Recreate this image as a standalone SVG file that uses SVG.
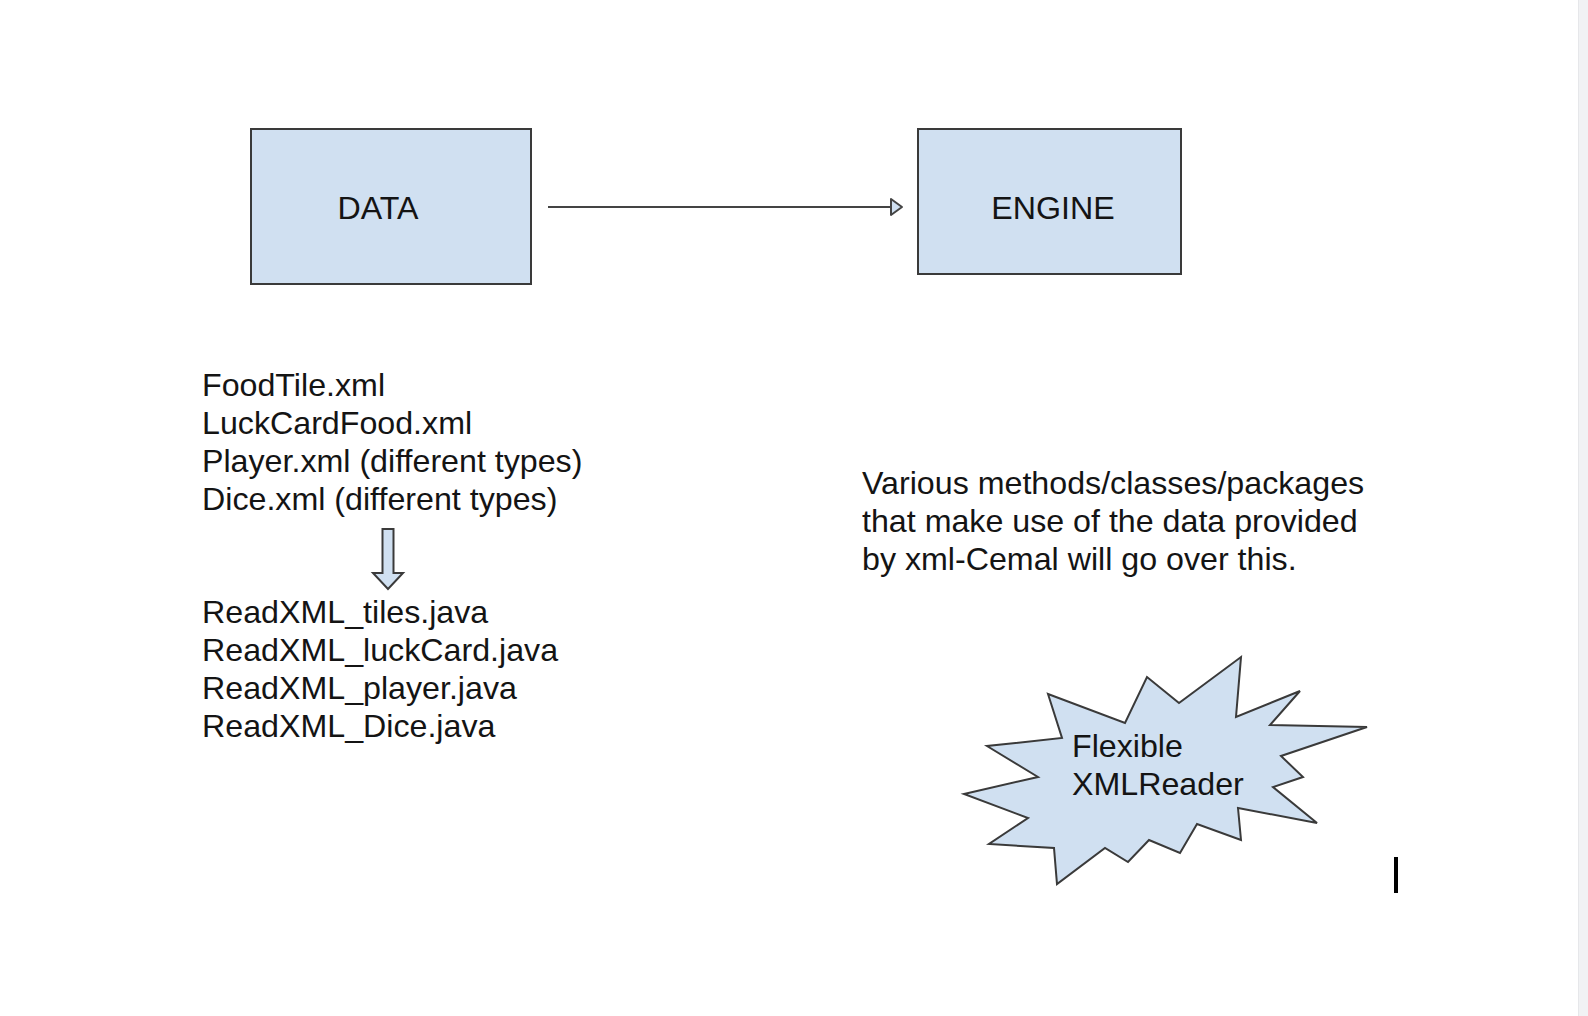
<svg xmlns="http://www.w3.org/2000/svg" width="1588" height="1016" viewBox="0 0 1588 1016">
<defs>
<style>
.box{fill:#d0e0f1;stroke:#3a3a3a;stroke-width:2}
.t{font-family:"Liberation Sans",Arial,Helvetica,sans-serif;font-size:32.2px;fill:#141414}
.conn{fill:none;stroke:#444;stroke-width:2}
</style>
<marker id="openArrow" markerWidth="14" markerHeight="20" refX="12" refY="9" orient="auto" markerUnits="userSpaceOnUse">
<path d="M1,1 L12,9 L1,17 Z" fill="#d0e0f1" stroke="#444" stroke-width="2" stroke-linejoin="round"/>
</marker>
</defs>
<rect x="0" y="0" width="1588" height="1016" fill="#ffffff"/>
<rect x="1578" y="0" width="10" height="1016" fill="#f1f2f4"/>
<line x1="1578.5" y1="0" x2="1578.5" y2="1016" stroke="#e6e7ea" stroke-width="1"/>

<g id="data">
<rect class="box" x="251" y="129" width="280" height="155"/>
<text class="t" x="378" y="219" text-anchor="middle">DATA</text>
</g>

<g id="engine">
<rect class="box" x="918" y="129" width="263" height="145"/>
<text class="t" x="1053" y="219" text-anchor="middle">ENGINE</text>
</g>

<g id="connectors">
<line class="conn" x1="548" y1="207" x2="902" y2="207" marker-end="url(#openArrow)"/>
<path d="M382.5,529 L393.5,529 L393.5,573 L403,573 L388,589 L373,573 L382.5,573 Z" fill="#d0e0f1" stroke="#3a3a3a" stroke-width="2" stroke-linejoin="miter"/>
</g>

<g id="xml-files">
<text class="t" x="202" y="396">FoodTile.xml</text>
<text class="t" x="202" y="434">LuckCardFood.xml</text>
<text class="t" x="202" y="472">Player.xml (different types)</text>
<text class="t" x="202" y="510">Dice.xml (different types)</text>
</g>

<g id="java-readers">
<text class="t" x="202" y="623">ReadXML_tiles.java</text>
<text class="t" x="202" y="661">ReadXML_luckCard.java</text>
<text class="t" x="202" y="699">ReadXML_player.java</text>
<text class="t" x="202" y="737">ReadXML_Dice.java</text>
</g>

<g id="engine-note">
<text class="t" x="862" y="494">Various methods/classes/packages</text>
<text class="t" x="862" y="532">that make use of the data provided</text>
<text class="t" x="862" y="570">by xml-Cemal will go over this.</text>
</g>

<g id="flexible-xmlreader">
<polygon class="box" points="1048,694 1125,723 1147,677 1179,703 1241,657 1236,717 1300,691 1270,725 1367,727 1281,756 1303,777 1273,787 1317,823 1238,808 1241,840 1197,824 1180,853 1149,840 1128,862 1105,848 1057,884 1054,848 989,844 1028,818 964,794 1038,777 987,746 1062,738"/>
<text class="t" x="1072" y="757">Flexible</text>
<text class="t" x="1072" y="795">XMLReader</text>
</g>

<rect x="1394" y="857" width="4" height="36" fill="#000"/>
</svg>
